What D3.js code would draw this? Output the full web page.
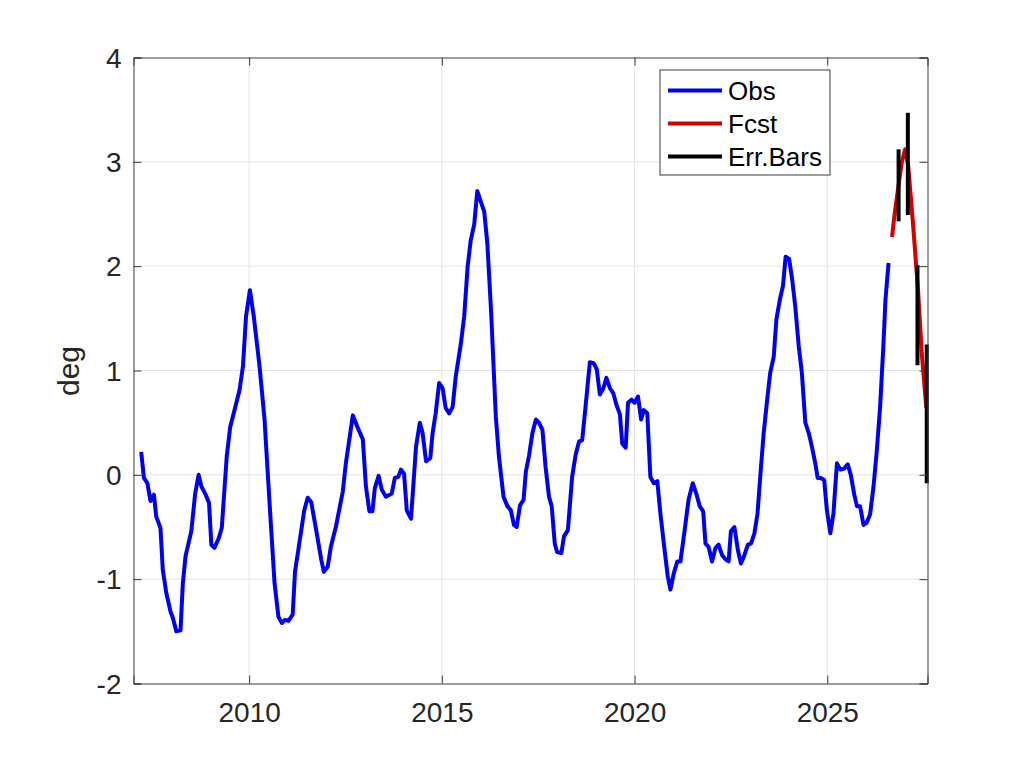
<!DOCTYPE html>
<html>
<head>
<meta charset="utf-8">
<script src="https://cdn.jsdelivr.net/npm/d3@7"></script>
<style>
	body { margin: 0; background: #fff; }
	text { font-family: "Liberation Sans", Arial, Helvetica, sans-serif; }
</style>
</head>
<body>
<svg id="chart" width="1024" height="768"></svg>
<script>
// observed series (decimal year, deg)
let obsYears = [
	2007.20, 2007.27, 2007.36, 2007.44, 2007.53, 2007.59, 2007.70, 2007.76, 2007.85, 2007.96,
	2008.02, 2008.11, 2008.22, 2008.28, 2008.35, 2008.50, 2008.60, 2008.69, 2008.76, 2008.86,
	2008.96, 2009.02, 2009.10, 2009.21, 2009.29, 2009.42, 2009.51, 2009.62, 2009.75, 2009.84,
	2009.92, 2010.02, 2010.12, 2010.27, 2010.40, 2010.53, 2010.66, 2010.76, 2010.85, 2010.93,
	2011.02, 2011.13, 2011.19, 2011.30, 2011.43, 2011.52, 2011.61, 2011.74, 2011.87, 2011.94,
	2012.04, 2012.12, 2012.25, 2012.43, 2012.51, 2012.69, 2012.82, 2012.95, 2013.03, 2013.12,
	2013.20, 2013.26, 2013.36, 2013.44, 2013.55, 2013.70, 2013.78, 2013.87, 2013.94, 2014.02,
	2014.09, 2014.20, 2014.33, 2014.43, 2014.50, 2014.59, 2014.70, 2014.76, 2014.84, 2014.93,
	2015.02, 2015.10, 2015.19, 2015.28, 2015.36, 2015.49, 2015.58, 2015.67, 2015.75, 2015.84,
	2015.92, 2016.01, 2016.10, 2016.18, 2016.28, 2016.40, 2016.48, 2016.60, 2016.70, 2016.79,
	2016.87, 2016.94, 2017.03, 2017.12, 2017.18, 2017.26, 2017.35, 2017.44, 2017.52, 2017.61,
	2017.69, 2017.78, 2017.85, 2017.93, 2017.99, 2018.10, 2018.17, 2018.27, 2018.38, 2018.47,
	2018.56, 2018.64, 2018.73, 2018.84, 2018.94, 2019.02, 2019.10, 2019.19, 2019.27, 2019.36,
	2019.45, 2019.53, 2019.62, 2019.68, 2019.77, 2019.83, 2019.92, 2020.00, 2020.09, 2020.17,
	2020.24, 2020.33, 2020.41, 2020.50, 2020.59, 2020.67, 2020.76, 2020.86, 2020.93, 2021.02,
	2021.11, 2021.19, 2021.30, 2021.40, 2021.51, 2021.61, 2021.69, 2021.78, 2021.84, 2021.92,
	2022.01, 2022.10, 2022.18, 2022.27, 2022.36, 2022.44, 2022.50, 2022.59, 2022.68, 2022.76,
	2022.85, 2022.94, 2023.02, 2023.11, 2023.19, 2023.26, 2023.35, 2023.44, 2023.52, 2023.61,
	2023.68, 2023.77, 2023.85, 2023.92, 2024.01, 2024.09, 2024.17, 2024.26, 2024.34, 2024.43,
	2024.52, 2024.60, 2024.69, 2024.75, 2024.83, 2024.92, 2024.99, 2025.08, 2025.16, 2025.25,
	2025.34, 2025.44, 2025.53, 2025.61, 2025.70, 2025.77, 2025.85, 2025.94, 2026.02, 2026.11,
	2026.20, 2026.28, 2026.37, 2026.45, 2026.51, 2026.59
];
let obsValues = [
	0.22, -0.03, -0.08, -0.25, -0.19, -0.40, -0.51, -0.91, -1.13, -1.31,
	-1.37, -1.50, -1.49, -1.04, -0.78, -0.54, -0.18, 0.00, -0.11, -0.18,
	-0.27, -0.67, -0.70, -0.61, -0.51, 0.18, 0.46, 0.62, 0.81, 1.04,
	1.52, 1.77, 1.52, 1.04, 0.53, -0.27, -1.04, -1.36, -1.42, -1.39,
	-1.40, -1.34, -0.93, -0.66, -0.34, -0.22, -0.26, -0.53, -0.81, -0.93,
	-0.88, -0.69, -0.50, -0.16, 0.11, 0.57, 0.45, 0.34, -0.11, -0.35,
	-0.35, -0.13, -0.01, -0.14, -0.21, -0.18, -0.03, -0.02, 0.05, 0.01,
	-0.34, -0.42, 0.27, 0.50, 0.40, 0.13, 0.16, 0.40, 0.59, 0.88,
	0.83, 0.64, 0.59, 0.65, 0.94, 1.25, 1.52, 2.00, 2.25, 2.40,
	2.72, 2.62, 2.52, 2.22, 1.55, 0.56, 0.18, -0.21, -0.30, -0.34,
	-0.48, -0.50, -0.29, -0.24, 0.03, 0.18, 0.40, 0.53, 0.50, 0.43,
	0.08, -0.21, -0.30, -0.66, -0.74, -0.75, -0.59, -0.53, -0.02, 0.19,
	0.32, 0.33, 0.66, 1.08, 1.07, 1.01, 0.77, 0.83, 0.93, 0.83,
	0.78, 0.67, 0.58, 0.30, 0.26, 0.69, 0.72, 0.69, 0.75, 0.53,
	0.62, 0.59, -0.02, -0.08, -0.06, -0.37, -0.66, -0.97, -1.10, -0.94,
	-0.83, -0.83, -0.53, -0.24, -0.08, -0.19, -0.30, -0.35, -0.66, -0.69,
	-0.83, -0.70, -0.67, -0.77, -0.81, -0.83, -0.54, -0.50, -0.72, -0.85,
	-0.77, -0.67, -0.66, -0.56, -0.37, -0.02, 0.40, 0.72, 0.98, 1.13,
	1.49, 1.68, 1.81, 2.09, 2.07, 1.87, 1.61, 1.23, 0.98, 0.50,
	0.40, 0.27, 0.11, -0.03, -0.03, -0.05, -0.34, -0.56, -0.37, 0.11,
	0.05, 0.06, 0.10, 0.00, -0.19, -0.30, -0.30, -0.48, -0.46, -0.38,
	-0.11, 0.21, 0.65, 1.20, 1.68, 2.03
];
// forecast
let fcstYears = [2026.68, 2026.74, 2026.85, 2026.93, 2027.02, 2027.10, 2027.23, 2027.36, 2027.45, 2027.57];
let fcstValues = [2.28, 2.48, 2.78, 2.99, 3.12, 2.96, 2.38, 1.74, 1.17, 0.64];
// error bars
let errYears = [2026.85, 2027.09, 2027.34, 2027.58];
let errLow = [2.43, 2.49, 1.05, -0.08];
let errHigh = [3.12, 3.47, 2.01, 1.25];

let xTicks = [2010, 2015, 2020, 2025];
let yTicks = [-2, -1, 0, 1, 2, 3, 4];
let legendItems = [
	{ 'name': 'Obs', 'color': '#0000f0' },
	{ 'name': 'Fcst', 'color': '#d00000' },
	{ 'name': 'Err.Bars', 'color': '#000000' }
];

let margin = { top: 57.5, right: 96.5, bottom: 84.5, left: 133.5 };
let width = 1024 - margin.left - margin.right;
let height = 768 - margin.top - margin.bottom;

let svg = d3.select('svg#chart').append('g')
	.attr('transform', 'translate(' + margin.left + ',' + margin.top + ')');

let x = d3.scaleLinear([2007, 2027.6], [0, width]);
let y = d3.scaleLinear([-2, 4], [height, 0]);

//grid
svg.append('g').selectAll('line.gx')
	.data(xTicks)
	.join('line')
	.attr('x1', d => x(d)).attr('x2', d => x(d))
	.attr('y1', 0).attr('y2', height)
	.attr('stroke', '#e3e3e3').attr('stroke-width', 1);
svg.append('g').selectAll('line.gy')
	.data(yTicks.slice(1, -1))
	.join('line')
	.attr('x1', 0).attr('x2', width)
	.attr('y1', d => y(d)).attr('y2', d => y(d))
	.attr('stroke', '#e3e3e3').attr('stroke-width', 1);

let line = d3.line()
	.x(d => x(d[0]))
	.y(d => y(d[1]));

svg.append('path')
	.datum(obsYears.map((t, i) => [t, obsValues[i]]))
	.attr('fill', 'none')
	.attr('stroke', legendItems[0].color)
	.attr('stroke-width', 4)
	.attr('stroke-linejoin', 'round')
	.attr('d', line);

svg.append('path')
	.datum(fcstYears.map((t, i) => [t, fcstValues[i]]))
	.attr('fill', 'none')
	.attr('stroke', legendItems[1].color)
	.attr('stroke-width', 4)
	.attr('stroke-linejoin', 'round')
	.attr('d', line);

svg.append('g').selectAll('line')
	.data(errYears)
	.join('line')
	.attr('x1', d => x(d)).attr('x2', d => x(d))
	.attr('y1', (d, i) => y(errLow[i]))
	.attr('y2', (d, i) => y(errHigh[i]))
	.attr('stroke', '#000').attr('stroke-width', 4);

// axes, matlab style: box with inward ticks on all sides
let tickLen = 8;
let axisColor = '#3a3a3a';
let bottomAxis = svg.append('g').attr('transform', 'translate(0,' + height + ')')
	.call(d3.axisBottom(x).tickValues(xTicks).tickFormat(d => String(d)).tickSize(-tickLen).tickPadding(19));
let topAxis = svg.append('g')
	.call(d3.axisTop(x).tickValues(xTicks).tickFormat('').tickSize(-tickLen));
let leftAxis = svg.append('g')
	.call(d3.axisLeft(y).tickValues(yTicks).tickFormat(d => String(d)).tickSize(-tickLen).tickPadding(12));
let rightAxis = svg.append('g').attr('transform', 'translate(' + width + ',0)')
	.call(d3.axisRight(y).tickValues(yTicks).tickFormat('').tickSize(-tickLen));

[bottomAxis, topAxis, leftAxis, rightAxis].forEach(function (a) {
	a.select('.domain').attr('stroke', axisColor).attr('stroke-width', 1);
	a.selectAll('.tick line').attr('stroke', axisColor);
	a.selectAll('.tick text')
		.attr('fill', '#262626')
		.style('font-size', '28px')
		.style('font-family', '"Liberation Sans", Arial, sans-serif');
});
leftAxis.selectAll('.tick text').attr('dy', '0.35em');

svg.append('text')
	.attr('transform', 'translate(' + (79 - margin.left) + ',' + (371 - margin.top) + ') rotate(-90)')
	.attr('text-anchor', 'middle')
	.attr('fill', '#262626')
	.style('font-size', '30px')
	.text('deg');

// legend
let legend = svg.append('g').attr('transform', 'translate(' + (660 - margin.left) + ',' + (70 - margin.top) + ')');
legend.append('rect')
	.attr('width', 170).attr('height', 105)
	.attr('fill', '#fff')
	.attr('stroke', '#3a3a3a').attr('stroke-width', 1);
let rows = legend.selectAll('g.row')
	.data(legendItems)
	.join('g')
	.attr('transform', (d, i) => 'translate(0,' + (20.5 + i * 33) + ')');
rows.append('line')
	.attr('x1', 8).attr('x2', 62)
	.attr('stroke', d => d.color).attr('stroke-width', 4);
rows.append('text')
	.attr('x', 68).attr('dy', '0.35em')
	.attr('fill', '#000')
	.style('font-size', '26px')
	.text(d => d.name);
</script>
</body>
</html>
